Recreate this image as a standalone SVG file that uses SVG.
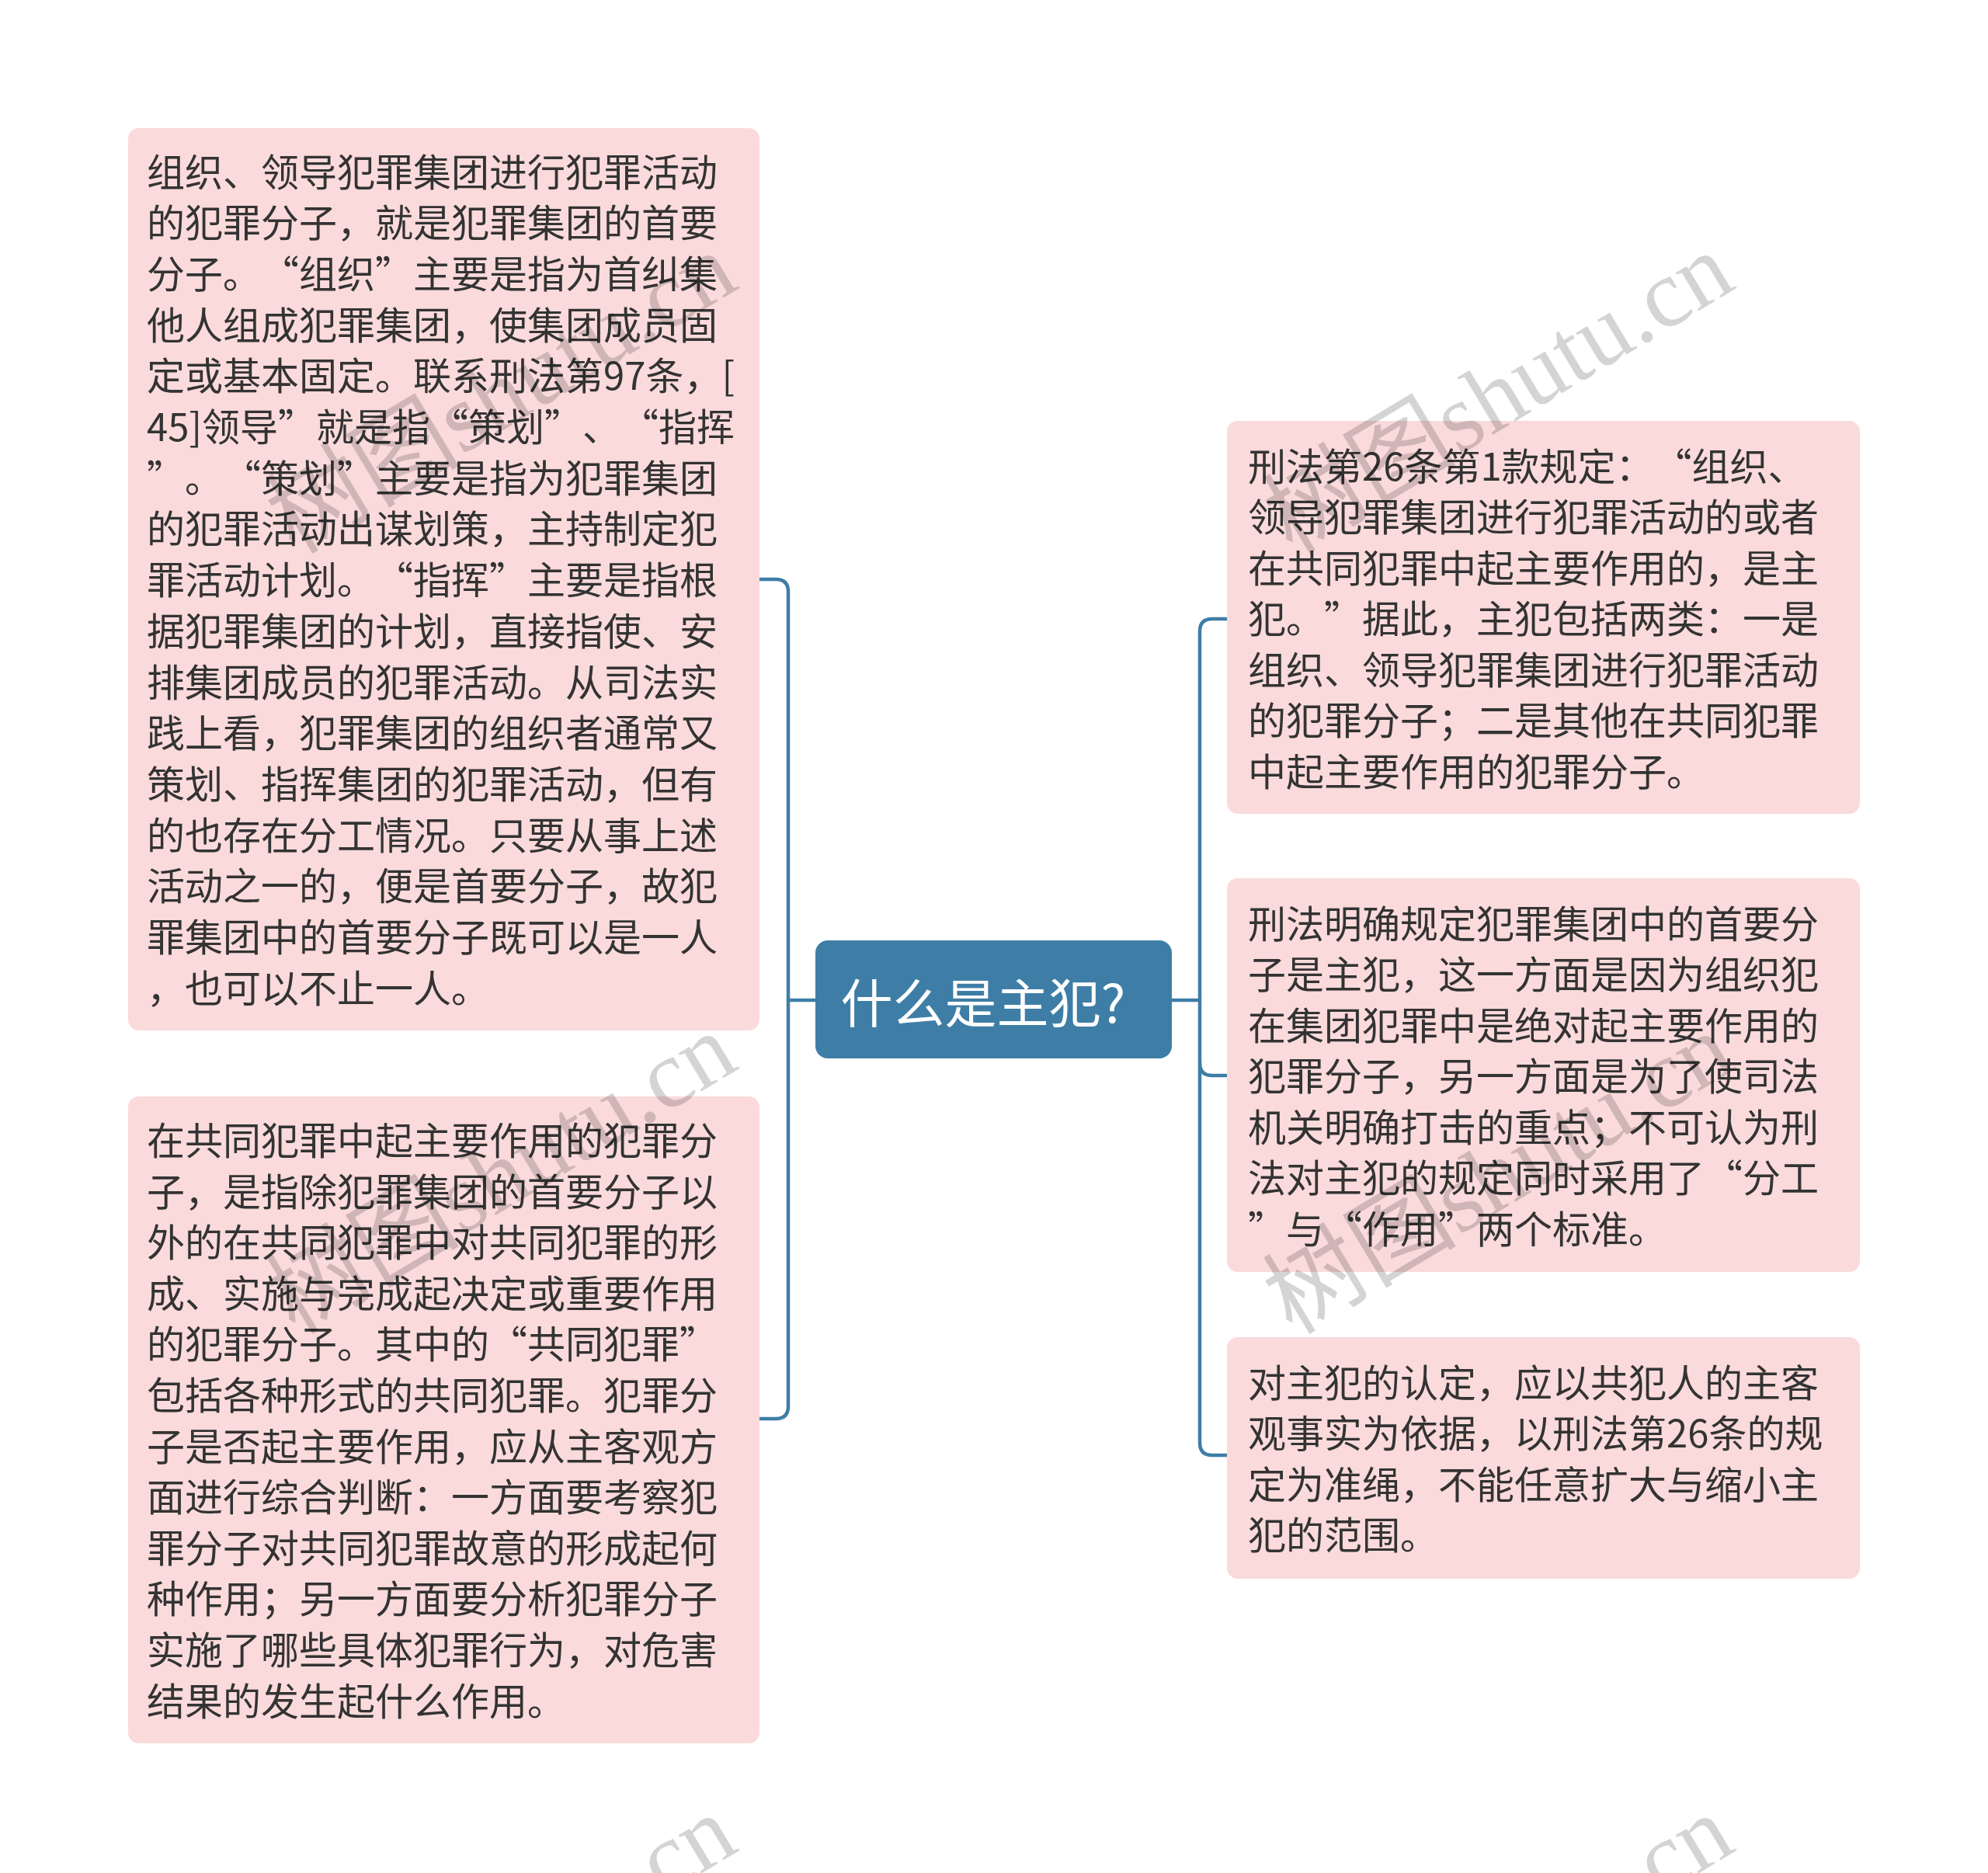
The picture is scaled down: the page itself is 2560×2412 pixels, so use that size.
<svg xmlns="http://www.w3.org/2000/svg" width="2560" height="2412" viewBox="0 0 2560 2412">
<style>
.box{fill:#fadadb;}
.t{font-family:"Noto Sans CJK SC","Noto Sans",sans-serif;font-size:49px;fill:#333333;dominant-baseline:central;text-spacing-trim:space-all;}
.ct{font-family:"Noto Sans CJK SC","Noto Sans",sans-serif;font-size:67px;fill:#ffffff;dominant-baseline:central;text-anchor:middle;}
.conn{fill:none;stroke:#3e7ea6;stroke-width:4.5;stroke-linecap:round;stroke-linejoin:round;}
.wm{font-family:"Liberation Serif","Noto Sans CJK SC",serif;font-size:125px;fill:#000000;fill-opacity:0.17;}
</style>
<rect x="0" y="0" width="2560" height="2412" fill="#ffffff"/>
<g id="connectors">
<path class="conn" d="M 1050 1288 H 1015"/>
<path class="conn" d="M 978 746 H 999 Q 1015 746 1015 762 V 1811 Q 1015 1827 999 1827 H 978"/>
<path class="conn" d="M 1509 1288 H 1545"/>
<path class="conn" d="M 1580 797 H 1561 Q 1545 797 1545 813 V 1858 Q 1545 1874 1561 1874 H 1580"/>
<path class="conn" d="M 1545 1369 Q 1545 1385 1561 1385 H 1580"/>
</g>
<g id="center">
<rect x="1050" y="1211" width="459" height="152" rx="16" fill="#3e7ea6"/>
<text class="ct" x="1266" y="1287">什么是主犯?</text>
</g>
<g id="left1">
<rect class="box" x="165" y="165" width="813" height="1162" rx="14"/>
<text class="t" x="189" y="217.5">
<tspan x="189">组织、领导犯罪集团进行犯罪活动</tspan>
<tspan x="189" dy="65.7">的犯罪分子，就是犯罪集团的首要</tspan>
<tspan x="189" dy="65.7">分子。“组织”主要是指为首纠集</tspan>
<tspan x="189" dy="65.7">他人组成犯罪集团，使集团成员固</tspan>
<tspan x="189" dy="65.7">定或基本固定。联系刑法第97条，[</tspan>
<tspan x="189" dy="65.7">45]领导”就是指“策划”、“指挥</tspan>
<tspan x="189" dy="65.7">”。“策划”主要是指为犯罪集团</tspan>
<tspan x="189" dy="65.7">的犯罪活动出谋划策，主持制定犯</tspan>
<tspan x="189" dy="65.7">罪活动计划。“指挥”主要是指根</tspan>
<tspan x="189" dy="65.7">据犯罪集团的计划，直接指使、安</tspan>
<tspan x="189" dy="65.7">排集团成员的犯罪活动。从司法实</tspan>
<tspan x="189" dy="65.7">践上看，犯罪集团的组织者通常又</tspan>
<tspan x="189" dy="65.7">策划、指挥集团的犯罪活动，但有</tspan>
<tspan x="189" dy="65.7">的也存在分工情况。只要从事上述</tspan>
<tspan x="189" dy="65.7">活动之一的，便是首要分子，故犯</tspan>
<tspan x="189" dy="65.7">罪集团中的首要分子既可以是一人</tspan>
<tspan x="189" dy="65.7">，也可以不止一人。</tspan>
</text>
</g>
<g id="left2">
<rect class="box" x="165" y="1412" width="813" height="833" rx="14"/>
<text class="t" x="189" y="1465">
<tspan x="189">在共同犯罪中起主要作用的犯罪分</tspan>
<tspan x="189" dy="65.6">子，是指除犯罪集团的首要分子以</tspan>
<tspan x="189" dy="65.6">外的在共同犯罪中对共同犯罪的形</tspan>
<tspan x="189" dy="65.6">成、实施与完成起决定或重要作用</tspan>
<tspan x="189" dy="65.6">的犯罪分子。其中的“共同犯罪”</tspan>
<tspan x="189" dy="65.6">包括各种形式的共同犯罪。犯罪分</tspan>
<tspan x="189" dy="65.6">子是否起主要作用，应从主客观方</tspan>
<tspan x="189" dy="65.6">面进行综合判断：一方面要考察犯</tspan>
<tspan x="189" dy="65.6">罪分子对共同犯罪故意的形成起何</tspan>
<tspan x="189" dy="65.6">种作用；另一方面要分析犯罪分子</tspan>
<tspan x="189" dy="65.6">实施了哪些具体犯罪行为，对危害</tspan>
<tspan x="189" dy="65.6">结果的发生起什么作用。</tspan>
</text>
</g>
<g id="right1">
<rect class="box" x="1580" y="542" width="815" height="506" rx="14"/>
<text class="t" x="1607" y="596.5">
<tspan x="1607">刑法第26条第1款规定：“组织、</tspan>
<tspan x="1607" dy="65.5">领导犯罪集团进行犯罪活动的或者</tspan>
<tspan x="1607" dy="65.5">在共同犯罪中起主要作用的，是主</tspan>
<tspan x="1607" dy="65.5">犯。”据此，主犯包括两类：一是</tspan>
<tspan x="1607" dy="65.5">组织、领导犯罪集团进行犯罪活动</tspan>
<tspan x="1607" dy="65.5">的犯罪分子；二是其他在共同犯罪</tspan>
<tspan x="1607" dy="65.5">中起主要作用的犯罪分子。</tspan>
</text>
</g>
<g id="right2">
<rect class="box" x="1580" y="1131" width="815" height="507" rx="14"/>
<text class="t" x="1607" y="1185.5">
<tspan x="1607">刑法明确规定犯罪集团中的首要分</tspan>
<tspan x="1607" dy="65.5">子是主犯，这一方面是因为组织犯</tspan>
<tspan x="1607" dy="65.5">在集团犯罪中是绝对起主要作用的</tspan>
<tspan x="1607" dy="65.5">犯罪分子，另一方面是为了使司法</tspan>
<tspan x="1607" dy="65.5">机关明确打击的重点；不可认为刑</tspan>
<tspan x="1607" dy="65.5">法对主犯的规定同时采用了“分工</tspan>
<tspan x="1607" dy="65.5">”与“作用”两个标准。</tspan>
</text>
</g>
<g id="right3">
<rect class="box" x="1580" y="1722" width="815" height="311" rx="14"/>
<text class="t" x="1607" y="1776.5">
<tspan x="1607">对主犯的认定，应以共犯人的主客</tspan>
<tspan x="1607" dy="65.5">观事实为依据，以刑法第26条的规</tspan>
<tspan x="1607" dy="65.5">定为准绳，不能任意扩大与缩小主</tspan>
<tspan x="1607" dy="65.5">犯的范围。</tspan>
</text>
</g>
<g id="watermarks">
<text class="wm" transform="translate(380 715) rotate(-31)">树图shutu.cn</text>
<text class="wm" transform="translate(1664 715) rotate(-31)">树图shutu.cn</text>
<text class="wm" transform="translate(380 1720) rotate(-31)">树图shutu.cn</text>
<text class="wm" transform="translate(1664 1720) rotate(-31)">树图shutu.cn</text>
<text class="wm" transform="translate(380 2727) rotate(-31)">树图shutu.cn</text>
<text class="wm" transform="translate(1664 2727) rotate(-31)">树图shutu.cn</text>
</g>
</svg>
